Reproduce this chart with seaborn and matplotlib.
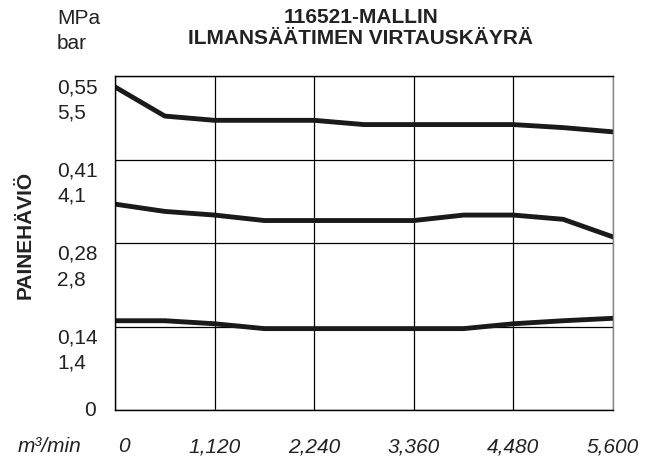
import pandas as pd
import seaborn as sns
import matplotlib.pyplot as plt
import matplotlib.transforms as mtransforms

# flow (m3/min) and pressure drop (bar)
flow = [0, 0.56, 1.12, 1.68, 2.24, 2.80, 3.36, 3.92, 4.48, 5.04, 5.60]
curve_high = [5.32, 4.84, 4.77, 4.77, 4.77, 4.70, 4.70, 4.70, 4.70, 4.65, 4.58]
curve_mid = [3.39, 3.27, 3.21, 3.12, 3.12, 3.12, 3.12, 3.21, 3.21, 3.14, 2.85]
curve_low = [1.47, 1.47, 1.42, 1.34, 1.34, 1.34, 1.34, 1.34, 1.42, 1.47, 1.51]

x_ticks = [0, 1.12, 2.24, 3.36, 4.48, 5.60]
x_labels = ['0', '1,120', '2,240', '3,360', '4,480', '5,600']
y_ticks = [0, 1.375, 2.75, 4.125, 5.5]
y_labels = ['0', '0,14\n1,4', '0,28\n2,8', '0,41\n4,1', '0,55\n5,5']

df = pd.DataFrame({
    'flow': flow * 3,
    'pressure': curve_high + curve_mid + curve_low,
    'curve': ['high'] * len(flow) + ['mid'] * len(flow) + ['low'] * len(flow),
})

sns.set_theme(style='white')
plt.rcParams['font.family'] = ['Liberation Sans', 'DejaVu Sans']

fig = plt.figure(figsize=(6.6, 4.62), dpi=100)
ax = fig.add_axes([115 / 660, 52 / 462, 498 / 660, 334 / 462])

sns.lineplot(data=df, x='flow', y='pressure', hue='curve',
             palette=['#1a1a1a'] * 3, linewidth=3.5, legend=False, ax=ax)

ax.set_xlim(0, 5.6)
ax.set_ylim(0, 5.5)
ax.set_xticks(x_ticks)
ax.set_yticks(y_ticks)
ax.set_xticklabels([])
ax.set_yticklabels([])
ax.tick_params(length=0)
ax.grid(True, color='black', linewidth=0.9)
ax.set_axisbelow(True)
ax.set_xlabel('')
ax.set_ylabel('')
for side, sp in ax.spines.items():
    sp.set_visible(True)
    sp.set_color('#888888' if side == 'right' else 'black')
    sp.set_linewidth(1.0)

txt = '#222222'

# y tick labels (two units, left aligned)
ytrans = mtransforms.blended_transform_factory(fig.transFigure, ax.transData)
for val, lab in zip(y_ticks, y_labels):
    if lab == '0':
        ax.text(96 / 660, val, lab, transform=ytrans, ha='right', va='center',
                fontsize=15, color=txt)
    else:
        ax.text(57 / 660, val, lab, transform=mtransforms.offset_copy(ytrans, fig, y=-2, units='dots'),
                ha='left', va='top', fontsize=15, linespacing=1.4, color=txt)

# x tick labels, italic
xtrans = mtransforms.blended_transform_factory(ax.transData, ax.transAxes)
for val, lab in zip(x_ticks, x_labels):
    if lab == '0':
        ax.text(val + 0.03, -0.11, lab, transform=xtrans, ha='left', va='center',
                fontsize=15, style='italic', color=txt)
    else:
        ax.text(val, -0.11, lab, transform=xtrans, ha='center', va='center',
                fontsize=15, style='italic', color=txt)

fig.text(18 / 660, 1 - 446 / 462, 'm³/min', ha='left', va='center',
         fontsize=15, style='italic', color=txt)
fig.text(57 / 660, 1 - 9 / 462, 'MPa\nbar', ha='left', va='top',
         fontsize=15, linespacing=1.4, color=txt)
fig.text(25 / 660, 1 - 235 / 462, 'PAINEHÄVIÖ', rotation=90, ha='center',
         va='center', fontsize=15, fontweight='bold', color=txt)
fig.text(361 / 660, 1 - 28 / 462, '116521-MALLIN\nILMANSÄÄTIMEN VIRTAUSKÄYRÄ',
         ha='center', va='center', fontsize=15, fontweight='bold',
         linespacing=1.1, color=txt)

plt.savefig('out.png', dpi=100)
